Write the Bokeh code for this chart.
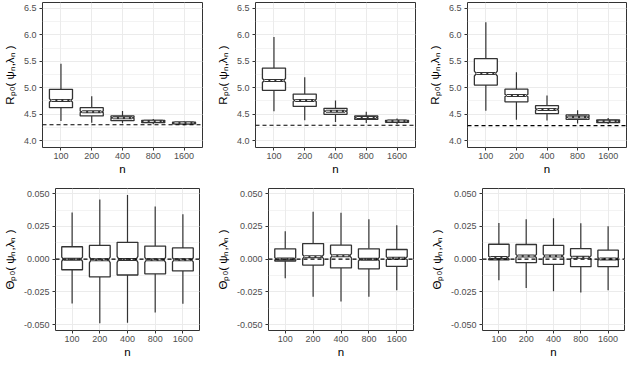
import numpy as np
from bokeh.plotting import figure
from bokeh.layouts import column, row
from bokeh.models import FixedTicker, SingleIntervalTicker, NumeralTickFormatter, Span
from bokeh.embed import file_html
from bokeh.resources import INLINE

# ---------------- data ----------------
n_labels = ["100", "200", "400", "800", "1600"]
n_rep = 300  # replications per box (used for the notch, as ggplot does)

# Top row: R_P0(psi_{n,lambda_n}), three settings
risk_truth = [4.30, 4.29, 4.282]

risk1_lower = [4.37, 4.34, 4.33, 4.31, 4.29]
risk1_q1 = [4.622, 4.467, 4.377, 4.34, 4.317]
risk1_med = [4.76, 4.544, 4.43, 4.365, 4.335]
risk1_q3 = [4.969, 4.622, 4.467, 4.383, 4.347]
risk1_upper = [5.453, 4.837, 4.56, 4.41, 4.36]

risk2_lower = [4.556, 4.383, 4.353, 4.335, 4.31]
risk2_q1 = [4.95, 4.646, 4.496, 4.40, 4.347]
risk2_med = [5.136, 4.76, 4.556, 4.437, 4.37]
risk2_q3 = [5.37, 4.88, 4.61, 4.467, 4.383]
risk2_upper = [5.96, 5.196, 4.76, 4.544, 4.42]

risk3_lower = [4.564, 4.396, 4.378, 4.324, 4.312]
risk3_q1 = [5.05, 4.733, 4.511, 4.402, 4.342]
risk3_med = [5.267, 4.853, 4.589, 4.444, 4.366]
risk3_q3 = [5.549, 4.973, 4.661, 4.486, 4.39]
risk3_upper = [6.238, 5.29, 4.853, 4.576, 4.426]

# Bottom row: Theta_P0(psi_{n,lambda_n}), three settings
theta_truth = [0.0, 0.0, 0.0]

theta1_lower = [-0.0338, -0.049, -0.0486, -0.0407, -0.034]
theta1_q1 = [-0.0081, -0.0136, -0.0121, -0.0112, -0.009]
theta1_med = [0.0, -0.0005, -0.0002, -0.0005, -0.0005]
theta1_q3 = [0.0095, 0.0105, 0.0129, 0.0100, 0.0086]
theta1_upper = [0.0357, 0.0455, 0.049, 0.0402, 0.0343]

theta2_lower = [-0.0145, -0.0288, -0.0324, -0.0288, -0.0238]
theta2_q1 = [-0.0014, -0.0045, -0.0067, -0.0074, -0.0055]
theta2_med = [0.0002, 0.0019, 0.0026, 0.0, 0.0007]
theta2_q3 = [0.0079, 0.0119, 0.0107, 0.0079, 0.0074]
theta2_upper = [0.0214, 0.0362, 0.0355, 0.0305, 0.026]

theta3_lower = [-0.0162, -0.0221, -0.0245, -0.0255, -0.0238]
theta3_q1 = [-0.0005, -0.0026, -0.004, -0.0057, -0.0057]
theta3_med = [0.0012, 0.0024, 0.0024, 0.0014, 0.0002]
theta3_q3 = [0.0114, 0.0112, 0.0105, 0.0081, 0.0069]
theta3_upper = [0.0276, 0.0305, 0.0312, 0.0274, 0.0252]

risk_label = "R\u209a\u2080( \u03c8\u2099,\u03bb\u2099 )"
theta_label = "\u0398\u209a\u2080( \u03c8\u2099,\u03bb\u2099 )"

# ---------------- styling ----------------
FONT = "Liberation Sans"
DARK = "#333333"
GRID = "#EBEBEB"
BOX_W = 0.75
NOTCH_IND = 0.085 * BOX_W


def panel(lower, q1, med, q3, upper, truth, y_range, interval, fmt, ylabel,
          fw, fh, bl, br, bt, bb):
    p = figure(frame_width=fw, frame_height=fh, x_range=(0.4, 5.6), y_range=y_range,
               output_backend="svg", toolbar_location=None,
               min_border_left=bl, min_border_right=br,
               min_border_top=bt, min_border_bottom=bb)
    p.background_fill_color = "white"
    p.border_fill_color = "white"
    p.outline_line_color = DARK
    p.outline_line_width = 1

    pos = np.arange(1, len(n_labels) + 1, dtype=float)
    lower = np.asarray(lower); q1 = np.asarray(q1); med = np.asarray(med)
    q3 = np.asarray(q3); upper = np.asarray(upper)
    notch = 1.58 * (q3 - q1) / np.sqrt(n_rep)
    n_lo = med - notch
    n_hi = med + notch
    xmin = pos - BOX_W / 2
    xmax = pos + BOX_W / 2
    ind = NOTCH_IND

    # whiskers
    p.segment(x0=pos, y0=q3, x1=pos, y1=upper, line_color=DARK, line_width=1.2)
    p.segment(x0=pos, y0=q1, x1=pos, y1=lower, line_color=DARK, line_width=1.2)

    xs, ys = [], []
    for i in range(len(pos)):
        xs.append([xmin[i], xmin[i], xmin[i] + ind, xmin[i], xmin[i],
                   xmax[i], xmax[i], xmax[i] - ind, xmax[i], xmax[i]])
        ys.append([q3[i], n_hi[i], med[i], n_lo[i], q1[i],
                   q1[i], n_lo[i], med[i], n_hi[i], q3[i]])
    p.patches(xs, ys, fill_color="white", line_color=DARK, line_width=1.3)
    p.segment(x0=xmin + ind, y0=med, x1=xmax - ind, y1=med,
              line_color=DARK, line_width=3)
    p.segment(x0=xmin + ind, y0=med, x1=xmax - ind, y1=med,
              line_color="white", line_width=1, line_dash="4 2")

    p.add_layout(Span(location=truth, dimension="width", line_color="black",
                      line_width=1.2, line_dash="4 3"))

    # axes
    p.xaxis.ticker = FixedTicker(ticks=list(pos))
    p.xaxis.major_label_overrides = {float(k): lab for k, lab in zip(pos, n_labels)}
    p.yaxis.ticker = SingleIntervalTicker(interval=interval, num_minor_ticks=2)
    p.yaxis.formatter = NumeralTickFormatter(format=fmt)
    p.xaxis.axis_label = "n"
    p.yaxis.axis_label = ylabel
    for ax in (p.xaxis, p.yaxis):
        ax.axis_line_color = None
        ax.major_tick_line_color = DARK
        ax.major_tick_out = 3
        ax.major_tick_in = 0
        ax.minor_tick_line_color = None
        ax.major_label_text_font = FONT
        ax.major_label_text_font_size = "9px"
        ax.major_label_text_color = "#4D4D4D"
        ax.axis_label_text_font = FONT
        ax.axis_label_text_font_size = "11.5px"
        ax.axis_label_text_font_style = "normal"
        ax.axis_label_text_color = "black"
        ax.major_label_standoff = 2
    p.xaxis.axis_label_standoff = 1
    p.yaxis.axis_label_standoff = 5

    p.xgrid.grid_line_color = GRID
    p.ygrid.grid_line_color = GRID
    p.ygrid.minor_grid_line_color = GRID
    p.ygrid.minor_grid_line_width = 0.6
    return p


top_range = (3.87, 6.61)
bot_range = (-0.0545, 0.054)

p1 = panel(risk1_lower, risk1_q1, risk1_med, risk1_q3, risk1_upper, risk_truth[0],
           top_range, 0.5, "0.0", risk_label, 160, 145, 37, 11, 2, 30)
p2 = panel(risk2_lower, risk2_q1, risk2_med, risk2_q3, risk2_upper, risk_truth[1],
           top_range, 0.5, "0.0", risk_label, 160, 145, 42, 6, 2, 30)
p3 = panel(risk3_lower, risk3_q1, risk3_med, risk3_q3, risk3_upper, risk_truth[2],
           top_range, 0.5, "0.0", risk_label, 159, 145, 46, 3, 2, 30)

p4 = panel(theta1_lower, theta1_q1, theta1_med, theta1_q3, theta1_upper, theta_truth[0],
           bot_range, 0.025, "0.000", theta_label, 144, 142, 52, 12, 11, 29)
p5 = panel(theta2_lower, theta2_q1, theta2_med, theta2_q3, theta2_upper, theta_truth[1],
           bot_range, 0.025, "0.000", theta_label, 145, 142, 57, 6, 11, 29)
p6 = panel(theta3_lower, theta3_q1, theta3_med, theta3_q3, theta3_upper, theta_truth[2],
           bot_range, 0.025, "0.000", theta_label, 142, 142, 63, 3, 11, 29)

layout = column(row(p1, p2, p3), row(p4, p5, p6))
open("out.html", "w").write(file_html(layout, INLINE))
